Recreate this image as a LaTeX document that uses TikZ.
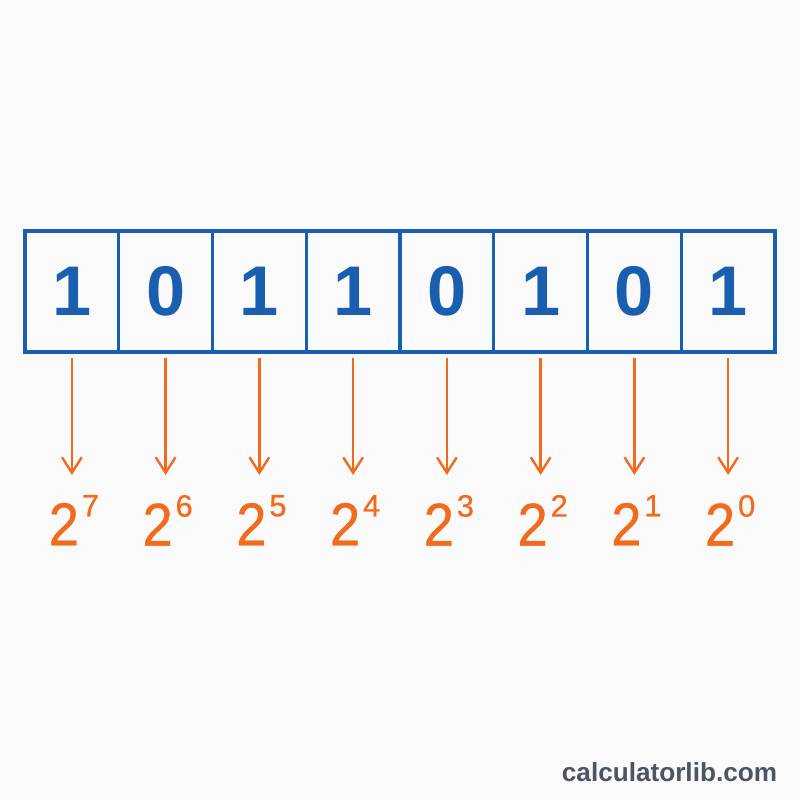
\documentclass[tikz,border=0pt]{standalone}
\usepackage{fontspec}
\setmainfont{Liberation Sans}
\newfontfamily\powfont{Liberation Sans}[FakeBold=0.6]
\usepackage{xcolor}
\usepackage{graphicx}
\usetikzlibrary{arrows.meta,positioning}
\definecolor{bitblue}{HTML}{1A5FAF}
\definecolor{poworange}{HTML}{F26A1B}
\definecolor{markgray}{HTML}{4B5563}
\tikzset{font={\fontsize{9pt}{12}\selectfont}}

\begin{document}
\begin{tikzpicture}[x=0.025cm,y=-0.025cm,
bitbox/.style={draw=bitblue,line width=2.2pt,minimum width=2.34375cm,minimum height=3.025cm,inner sep=0,outer sep=0,text=bitblue,font={\fontsize{50pt}{50pt}\selectfont\bfseries}},
power/.style={anchor=north,inner sep=0,outer sep=0,text=poworange,font=\powfont},
weight/.style={draw=poworange,line width=1.7pt,-{Straight Barb[length=11pt,width=14pt]},shorten <=0.15cm,shorten >=0.5cm}
]
\fill[white!98!black] (0,0) rectangle (800,800);
\useasboundingbox (0,0) rectangle (800,800);

%bits
\foreach \b [count=\i] in {1,0,1,1,0,1,0,1}
  \node[bitbox] (b\i) at (25+93.75*\i-46.875,291.5) {\b};

%powers
\foreach \i [evaluate=\i as \e using int(8-\i)] in {1,...,8}{
  \node[power] (p\i) at (27+93.75*\i-46.875,495) {\scalebox{0.9}[1]{\fontsize{43pt}{43pt}\selectfont 2}\hspace{2pt}\raisebox{20.6pt}{\fontsize{22pt}{22pt}\selectfont\e}};
  \draw[weight] (b\i.south -| b\i) -- (p\i.north -| b\i);
}

\node[anchor=base east,text=markgray,font={\fontsize{18.6pt}{20pt}\selectfont\bfseries}] (mark) at (782,781) {calculatorlib.com};
\end{tikzpicture}
\end{document}
